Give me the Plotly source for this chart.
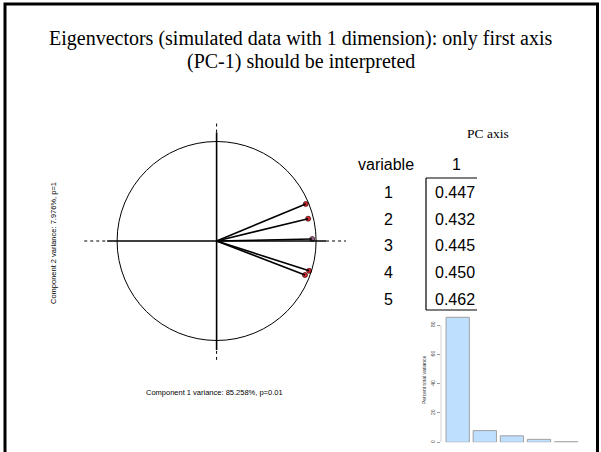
import plotly.graph_objects as go

W, H = 601, 452

# Correlation-circle coordinates of the five variables (component 1, component 2)
var_ids = ["1", "2", "3", "4", "5"]
comp1_coord = [0.896, 0.920, 0.961, 0.930, 0.888]
comp2_coord = [0.372, 0.224, 0.020, -0.300, -0.342]

# Eigenvector (PC axis 1) loadings shown in the table
pc1_loading = ["0.447", "0.432", "0.445", "0.450", "0.462"]

# Scree plot: percent of total variance per component
comp_index = [1, 2, 3, 4, 5]
pct_variance = [85.258, 7.976, 4.41, 1.99, 0.366]
scree_ticks = [0, 20, 40, 60, 80]

title_lines = [
    "Eigenvectors (simulated data with 1 dimension): only first axis",
    "(PC-1) should be interpreted",
]
x_label = "Component 1 variance: 85.258%, p=0.01"
y_label = "Component 2 variance: 7.976%, p=1"

SERIF = "Liberation Serif"
SANS = "Liberation Sans"


def px_x(p):
    return p / W


def px_y(p):
    return 1 - p / H


# ---- correlation circle axes (one unit = 99.5 px) ----
R = 99.5
cx, cy = 216.6, 241.0
xr = [-1.36, 1.36]
yr = [-1.30, 1.30]
x_dom = [px_x(cx + xr[0] * R), px_x(cx + xr[1] * R)]
y_dom = [px_y(cy - yr[0] * R), px_y(cy - yr[1] * R)]

fig = go.Figure()

# vectors from the origin
vx, vy = [], []
for a, b in zip(comp1_coord, comp2_coord):
    vx += [0, a, None]
    vy += [0, b, None]

fig.add_trace(go.Scatter(
    x=comp1_coord, y=comp2_coord, mode="markers",
    marker=dict(size=5, color=["#d42a2a", "#d42a2a", "#9a6f96", "#d42a2a", "#d42a2a"],
                line=dict(color="#4a1010", width=0.8)),
    xaxis="x", yaxis="y", hoverinfo="skip", showlegend=False,
))
fig.add_trace(go.Scatter(
    x=vx, y=vy, mode="lines", line=dict(color="black", width=1.6),
    xaxis="x", yaxis="y", hoverinfo="skip", showlegend=False,
))

shapes = []
# unit circle
shapes.append(dict(type="circle", xref="x", yref="y", x0=-1, x1=1, y0=-1, y1=1,
                   line=dict(color="black", width=1)))
# solid cross
shapes.append(dict(type="line", xref="x", yref="y", x0=-1.10, x1=1.10, y0=0, y1=0,
                   line=dict(color="black", width=1.6)))
shapes.append(dict(type="line", xref="x", yref="y", x0=0, x1=0, y0=-1.095, y1=1.09,
                   line=dict(color="black", width=1.6)))
# dotted extensions
for seg in [(-1.33, -1.10), (1.10, 1.30)]:
    shapes.append(dict(type="line", xref="x", yref="y", x0=seg[0], x1=seg[1], y0=0, y1=0,
                       line=dict(color="black", width=1, dash="dot")))
for seg in [(-1.195, -1.095), (1.09, 1.19)]:
    shapes.append(dict(type="line", xref="x", yref="y", x0=0, x1=0, y0=seg[0], y1=seg[1],
                       line=dict(color="black", width=1, dash="dot")))

# ---- scree plot ----
bx_unit = 27.1
by_unit = 1.466
bx_range = [0.373, 5.6]
by_range = [0, 90]
bx_left = 440.7
b_zero = 442.3
x2_dom = [px_x(bx_left), px_x(bx_left + (bx_range[1] - bx_range[0]) * bx_unit)]
y2_dom = [px_y(b_zero), px_y(b_zero - by_range[1] * by_unit)]

fig.add_trace(go.Bar(
    x=comp_index, y=pct_variance, width=0.86,
    marker=dict(color="#bfdfff", line=dict(color="#a0a0a0", width=1)),
    xaxis="x2", yaxis="y2", hoverinfo="skip", showlegend=False,
))
shapes.append(dict(type="line", xref="x2", yref="y2", x0=bx_range[0], x1=bx_range[0],
                   y0=scree_ticks[0], y1=scree_ticks[-1],
                   line=dict(color="#9a9a9a", width=1)))

# ---- titles and table of loadings ----
annotations = []
for i, t in enumerate(title_lines):
    annotations.append(dict(text=t, x=0.5, y=px_y(38 + 24 * i), xref="paper", yref="paper",
                            xanchor="center", yanchor="middle", showarrow=False,
                            font=dict(family=SERIF, size=20, color="black")))

annotations.append(dict(text="PC axis", x=px_x(488), y=px_y(133), xref="paper", yref="paper",
                        xanchor="center", yanchor="middle", showarrow=False,
                        font=dict(family=SERIF, size=13.5, color="black")))
annotations.append(dict(text="variable", x=px_x(385.5), y=px_y(165), xref="paper", yref="paper",
                        xanchor="center", yanchor="middle", showarrow=False,
                        font=dict(family=SANS, size=16, color="black")))
annotations.append(dict(text="1", x=px_x(456.5), y=px_y(165), xref="paper", yref="paper",
                        xanchor="center", yanchor="middle", showarrow=False,
                        font=dict(family=SANS, size=16, color="black")))
row_y = [192, 219, 246, 272.5, 299]
for vid, val, ry in zip(var_ids, pc1_loading, row_y):
    annotations.append(dict(text=vid, x=px_x(388), y=px_y(ry), xref="paper", yref="paper",
                            xanchor="center", yanchor="middle", showarrow=False,
                            font=dict(family=SANS, size=16, color="black")))
    annotations.append(dict(text=val, x=px_x(455), y=px_y(ry), xref="paper", yref="paper",
                            xanchor="center", yanchor="middle", showarrow=False,
                            font=dict(family=SANS, size=16, color="black")))

tbl_left, tbl_right, tbl_top, tbl_bot = 426, 477, 178, 310
for seg in [((tbl_left, tbl_top), (tbl_left, tbl_bot)),
            ((tbl_left, tbl_top), (tbl_right, tbl_top)),
            ((tbl_left, tbl_bot), (tbl_right, tbl_bot))]:
    (x0, y0), (x1, y1) = seg
    shapes.append(dict(type="line", xref="paper", yref="paper",
                       x0=px_x(x0), x1=px_x(x1), y0=px_y(y0), y1=px_y(y1),
                       line=dict(color="black", width=1.2)))

# circle axis labels
annotations.append(dict(text=x_label, x=px_x(214.5), y=px_y(392), xref="paper", yref="paper",
                        xanchor="center", yanchor="middle", showarrow=False,
                        font=dict(family=SANS, size=7.5, color="black")))
annotations.append(dict(text=y_label, x=px_x(53), y=px_y(243), xref="paper", yref="paper",
                        xanchor="center", yanchor="middle", showarrow=False, textangle=-90,
                        font=dict(family=SANS, size=7.5, color="black")))
# scree axis title
annotations.append(dict(text="Percent total variance", x=px_x(424), y=px_y(380),
                        xref="paper", yref="paper", xanchor="center", yanchor="middle",
                        showarrow=False, textangle=-90,
                        font=dict(family=SANS, size=5, color="#333333")))

# slide frame
shapes.append(dict(type="rect", xref="paper", yref="paper",
                   x0=px_x(5), x1=px_x(597.5), y0=-0.05, y1=px_y(4),
                   line=dict(color="black", width=3)))

fig.update_layout(
    width=W, height=H, margin=dict(l=0, r=0, t=0, b=0),
    paper_bgcolor="white", plot_bgcolor="rgba(0,0,0,0)",
    xaxis=dict(domain=x_dom, range=xr, visible=False, fixedrange=True),
    yaxis=dict(domain=y_dom, range=yr, visible=False, fixedrange=True),
    xaxis2=dict(domain=x2_dom, range=bx_range, visible=False, anchor="y2"),
    yaxis2=dict(domain=y2_dom, range=by_range, anchor="x2", showline=False,
                showgrid=False, zeroline=False, tickvals=scree_ticks,
                ticks="outside", ticklen=3, tickcolor="#9a9a9a", tickangle=-90,
                tickfont=dict(family=SANS, size=5, color="#444444")),
    shapes=shapes, annotations=annotations, showlegend=False,
)

fig.write_html("out.html")
